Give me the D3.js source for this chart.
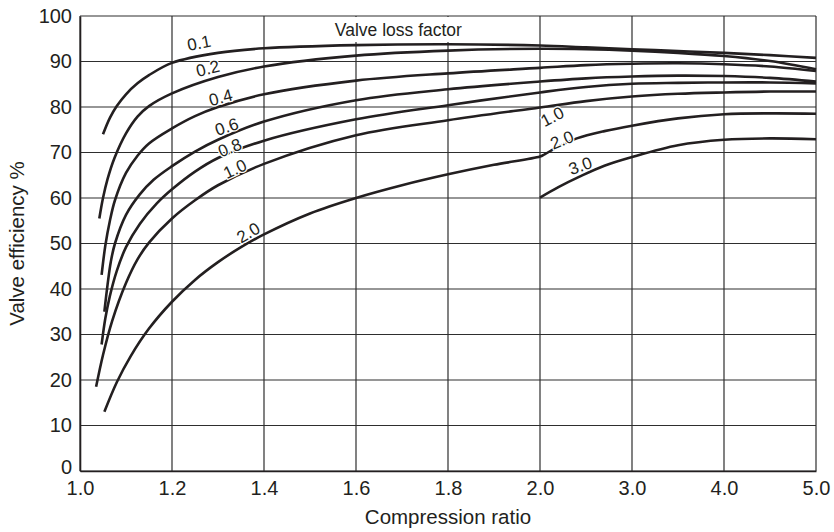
<!DOCTYPE html>
<html>
<head>
<meta charset="utf-8">
<script src="https://cdn.jsdelivr.net/npm/d3@7/dist/d3.min.js"></script>
<style>
  html, body { margin: 0; padding: 0; background: #fff; }
  svg { display: block; font-family: "Liberation Sans", Arial, Helvetica, sans-serif; }
</style>
</head>
<body>
<svg id="chart" width="834" height="532"></svg>
<script>
// Compression-ratio axis: fine steps up to 2.0, then whole-number steps
const xTickValues = [1.0, 1.2, 1.4, 1.6, 1.8, 2.0, 3.0, 4.0, 5.0];
const xTickLabels = ["1.0", "1.2", "1.4", "1.6", "1.8", "2.0", "3.0", "4.0", "5.0"];
const yTickValues = [0, 10, 20, 30, 40, 50, 60, 70, 80, 90, 100];
const yTickLabels = ["0", "10", "20", "30", "40", "50", "60", "70", "80", "90", "100"];

// Valve efficiency (%) against compression ratio, one array per valve loss factor
const loss01 = [[1.05,74],[1.065,77.6],[1.08,80.2],[1.1,82.8],[1.125,85.2],[1.15,87],[1.2,89.7],[1.3,91.9],[1.4,92.9],[1.6,93.6],[1.8,93.8],[2.0,93.5],[2.5,93.1],[3.0,92.7],[3.5,92.3],[4.0,91.9],[4.5,91.4],[5.0,90.8]];
const loss02 = [[1.042,55.5],[1.05,60],[1.06,64.2],[1.075,68.8],[1.1,74.2],[1.125,77.9],[1.15,80.2],[1.2,83],[1.3,86.6],[1.4,88.9],[1.6,91.3],[1.8,92.4],[2.0,92.8],[2.5,92.7],[3.0,92.4],[3.5,91.9],[4.0,91.2],[4.5,90.1],[5.0,88.3]];
const loss04 = [[1.047,43.1],[1.055,49.5],[1.065,55],[1.076,59.5],[1.1,65.5],[1.125,69.3],[1.15,72],[1.2,75.3],[1.25,78],[1.3,80],[1.4,82.8],[1.6,85.8],[1.8,87.4],[2.0,88.6],[2.5,89.2],[3.0,89.5],[3.5,89.6],[4.0,89.4],[4.5,88.9],[5.0,87.9]];
const loss06 = [[1.053,35],[1.06,41],[1.067,46],[1.076,50],[1.1,56.3],[1.13,60.8],[1.16,64],[1.2,67],[1.25,70.2],[1.3,72.8],[1.4,76.8],[1.6,81.5],[1.8,83.9],[2.0,85.6],[2.5,86.3],[3.0,86.7],[3.5,86.9],[4.0,86.8],[4.5,86.4],[5.0,85.6]];
const loss08 = [[1.047,27.8],[1.055,33.5],[1.065,38.5],[1.08,44],[1.1,49.2],[1.13,54.3],[1.167,58.8],[1.2,61.9],[1.25,65.8],[1.3,68.8],[1.4,72.6],[1.6,77.3],[1.8,80.4],[2.0,83.2],[2.5,84.4],[3.0,85.1],[3.5,85.3],[4.0,85.4],[4.5,85.4],[5.0,85.2]];
const loss10 = [[1.035,18.5],[1.05,25.5],[1.07,33],[1.1,41.3],[1.125,46.5],[1.15,50.2],[1.2,55.5],[1.25,59.5],[1.3,62.8],[1.4,67.5],[1.6,73.8],[1.8,77.1],[2.0,79.9],[2.5,81.3],[3.0,82.3],[3.5,82.9],[4.0,83.2],[4.5,83.4],[5.0,83.4]];
const loss20 = [[1.053,13],[1.08,19.5],[1.11,25.2],[1.15,31.3],[1.2,37.2],[1.25,42],[1.3,45.9],[1.35,49.2],[1.4,52],[1.5,56.6],[1.6,60],[1.7,62.8],[1.8,65.2],[1.9,67.3],[2.0,69.1],[2.05,69.6],[2.2,71.3],[2.4,73.1],[2.7,74.7],[3.0,75.9],[3.5,77.5],[4.0,78.4],[4.5,78.6],[5.0,78.5]];
const loss30 = [[2.0,60.1],[2.2,62.4],[2.43,64.7],[2.7,67.1],[3.0,69],[3.5,71.6],[4.0,72.8],[4.5,73.1],[5.0,72.9]];

const curves = [loss01, loss02, loss04, loss06, loss08, loss10, loss20, loss30];

// Curve labels: text, anchor (ratio, efficiency) and slant in degrees
const labelTexts  = ["0.1", "0.2", "0.4", "0.6", "0.8", "1.0", "2.0", "1.0", "2.0", "3.0"];
const labelRatio  = [1.259, 1.278, 1.306, 1.319, 1.326, 1.337, 1.366, 2.136, 2.24, 2.44];
const labelEff    = [94.0, 88.4, 82.0, 75.6, 71.0, 66.3, 52.3, 77.8, 72.7, 67.0];
const labelAngle  = [-11, -14, -15, -18, -22, -25, -30, -27, -22, -20];

const width = 834, height = 532;
const margin = { top: 16, right: 18, bottom: 61, left: 80 };

const svg = d3.select("#chart");
const ink = "#231f20";

const x = d3.scaleLinear()
  .domain([1, 2, 5])
  .range([margin.left, margin.left + 460, width - margin.right]);
const y = d3.scaleLinear()
  .domain([0, 100])
  .range([height - margin.bottom, margin.top]);

// Grid
const grid = svg.append("g").attr("stroke", "#2e2e2e").attr("stroke-width", 1.2).attr("fill", "none");
grid.selectAll("line.v").data(xTickValues).join("line")
  .attr("class", "v")
  .attr("x1", d => x(d)).attr("x2", d => x(d))
  .attr("y1", y(0)).attr("y2", y(100));
grid.selectAll("line.h").data(yTickValues).join("line")
  .attr("class", "h")
  .attr("x1", x(1)).attr("x2", x(5))
  .attr("y1", d => y(d)).attr("y2", d => y(d));

// Axes (labels only, the grid provides the rules)
const xAxis = d3.axisBottom(x)
  .tickValues(xTickValues)
  .tickFormat((d, i) => xTickLabels[i])
  .tickSize(0).tickPadding(10);
const gx = svg.append("g")
  .attr("transform", `translate(0,${y(0)})`)
  .call(xAxis);
gx.select(".domain").attr("stroke", ink).attr("stroke-width", 1.6);
gx.selectAll("text").attr("font-size", 20).attr("fill", ink)
  .attr("font-family", "'Liberation Sans', Arial, sans-serif");

const yAxis = d3.axisLeft(y)
  .tickValues(yTickValues)
  .tickFormat((d, i) => yTickLabels[i])
  .tickSize(0).tickPadding(8);
const gy = svg.append("g")
  .attr("transform", `translate(${x(1)},0)`)
  .call(yAxis);
gy.select(".domain").attr("stroke", ink).attr("stroke-width", 1.6);
gy.selectAll("text").attr("font-size", 20).attr("fill", ink)
  .attr("font-family", "'Liberation Sans', Arial, sans-serif");
// the zero label sits a touch higher so it clears the first ratio label
gy.selectAll(".tick").filter(d => d === 0).select("text").attr("dy", "0.12em");

// Axis titles
svg.append("text")
  .attr("x", (x(1) + x(5)) / 2)
  .attr("y", height - 8)
  .attr("text-anchor", "middle")
  .attr("font-size", 20.5).attr("fill", ink)
  .text("Compression ratio");
svg.append("text")
  .attr("transform", `translate(24,${(y(0) + y(100)) / 2}) rotate(-90)`)
  .attr("text-anchor", "middle")
  .attr("font-size", 20.5).attr("fill", ink)
  .text("Valve efficiency %");

// Heading inside the plot, on a white patch over the grid
const heading = svg.append("g");
const headText = heading.append("text")
  .attr("x", x(1.554)).attr("y", y(95.6))
  .attr("font-size", 17.5).attr("fill", ink)
  .text("Valve loss factor");
const hb = headText.node().getBBox();
heading.insert("rect", "text")
  .attr("x", hb.x - 2).attr("y", y(100) + 1)
  .attr("width", hb.width + 4).attr("height", hb.y + hb.height + 2 - (y(100) + 1))
  .attr("fill", "#fff");

// Curves
const line = d3.line()
  .x(d => x(d[0]))
  .y(d => y(d[1]))
  .curve(d3.curveCatmullRom.alpha(0.5));
svg.append("g")
  .selectAll("path")
  .data(curves)
  .join("path")
  .attr("d", line)
  .attr("fill", "none")
  .attr("stroke", ink)
  .attr("stroke-width", 2.6)
  .attr("stroke-linecap", "butt");

// Curve labels
svg.append("g")
  .selectAll("text")
  .data(labelTexts)
  .join("text")
  .attr("transform", (d, i) => `translate(${x(labelRatio[i])},${y(labelEff[i])}) rotate(${labelAngle[i]})`)
  .attr("text-anchor", "middle")
  .attr("dominant-baseline", "central")
  .attr("font-size", 17)
  .attr("fill", ink)
  .attr("stroke", "#fff").attr("stroke-width", 2.5)
  .attr("paint-order", "stroke")
  .text(d => d);
</script>
</body>
</html>
